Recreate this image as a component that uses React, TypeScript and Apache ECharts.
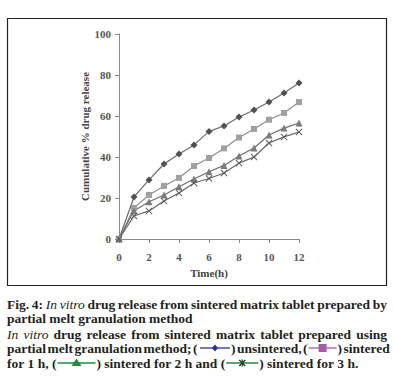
import React, { useEffect, useRef } from "react";
import * as echarts from "echarts";

// ---- data ----
const timeHours = [0, 1, 2, 3, 4, 5, 6, 7, 8, 9, 10, 11, 12];
const unsintered = [0, 20.5, 28.8, 36.6, 41.5, 45.9, 52.5, 55.1, 59.5, 62.9, 66.8, 71.2, 76.1];
const sintered1h = [0, 15.2, 21.5, 25.9, 29.8, 35.6, 39.5, 44.2, 49.5, 53.7, 58.2, 61.5, 66.8];
const sintered2h = [0, 13.8, 18.2, 21.5, 25.5, 29.3, 32.8, 35.9, 40.5, 44.4, 50.7, 54.1, 56.6];
const sintered3h = [0, 11.2, 13.7, 18.5, 22.4, 27.3, 29.5, 32.2, 37.0, 40.0, 46.8, 49.8, 52.2];
const seriesNames = ["unsintered", "sintered for 1 h", "sintered for 2 h", "sintered for 3 h"];
const xAxisName = "Time(h)";
const yAxisName = "Cumulative % drug release";

type Part = { t?: string; it?: boolean; icon?: number };
type Word = Part[];
const w = (t: string, it = false): Word => [{ t, it }];

const captionLines: { y: number; justify: boolean; words: Word[] }[] = [
  {
    y: 304,
    justify: true,
    words: [w("Fig."), w("4:"), w("In", true), w("vitro", true), w("drug"), w("release"), w("from"), w("sintered"), w("matrix"), w("tablet"), w("prepared"), w("by")],
  },
  { y: 318, justify: false, words: [w("partial"), w("melt"), w("granulation"), w("method")] },
  {
    y: 334,
    justify: true,
    words: [w("In", true), w("vitro", true), w("drug"), w("release"), w("from"), w("sintered"), w("matrix"), w("tablet"), w("prepared"), w("using")],
  },
  {
    y: 348,
    justify: true,
    words: [w("partial"), w("melt"), w("granulation"), w("method;"), w("("), [{ icon: 0 }, { t: ")" }], w("unsintered,"), [{ t: "(" }, { icon: 1 }, { t: ")" }], w("sintered")],
  },
  {
    y: 363,
    justify: false,
    words: [w("for"), w("1"), w("h,"), [{ t: "(" }, { icon: 2 }, { t: ")" }], w("sintered"), w("for"), w("2"), w("h"), w("and"), [{ t: "(" }, { icon: 3 }, { t: ")" }], w("sintered"), w("for"), w("3"), w("h.")],
  },
];

const iconWidths = [32, 30, 40, 34];
const iconColors = ["#2e3192", "#a45aa6", "#1f8c3f", "#1f8c3f"];

export default function App() {
  const ref = useRef<HTMLDivElement>(null);

  useEffect(() => {
    if (!ref.current) return;
    const chart = echarts.init(ref.current, undefined, { renderer: "svg" });

    const FAM = '"Liberation Serif", "Times New Roman", serif';
    const fs = 13.5;
    const fontB = `bold ${fs}px ${FAM}`;
    const fontI = `italic ${fs}px ${FAM}`;
    const textColor = "#231f20";
    const ctx = document.createElement("canvas").getContext("2d")!;
    const partW = (p: Part) => {
      if (p.icon !== undefined) return iconWidths[p.icon];
      ctx.font = p.it ? fontI : fontB;
      return ctx.measureText(p.t || "").width;
    };
    ctx.font = fontB;
    const spaceW = ctx.measureText(" ").width;

    const X0 = 7;
    const X1 = 387;
    const graphics: any[] = [];

    const drawIcon = (idx: number, x: number, y: number) => {
      const wd = iconWidths[idx];
      const c = iconColors[idx];
      graphics.push({
        type: "line",
        shape: { x1: x + 1, y1: y, x2: x + wd - 1, y2: y },
        style: { stroke: c, lineWidth: 1.3 },
      });
      const cx = x + wd / 2;
      if (idx === 0) {
        graphics.push({
          type: "polygon",
          shape: { points: [[cx, y - 3.5], [cx + 3, y], [cx, y + 3.5], [cx - 3, y]] },
          style: { fill: c },
        });
      } else if (idx === 1) {
        graphics.push({ type: "rect", shape: { x: cx - 4, y: y - 4, width: 8, height: 8 }, style: { fill: c } });
      } else if (idx === 2) {
        graphics.push({
          type: "polygon",
          shape: { points: [[cx, y - 4.5], [cx + 5, y + 3], [cx - 5, y + 3]] },
          style: { fill: c },
        });
      } else {
        const s = 3;
        graphics.push({ type: "line", shape: { x1: cx - s, y1: y - s, x2: cx + s, y2: y + s }, style: { stroke: "#1b3b1f", lineWidth: 1.2 } });
        graphics.push({ type: "line", shape: { x1: cx - s, y1: y + s, x2: cx + s, y2: y - s }, style: { stroke: "#1b3b1f", lineWidth: 1.2 } });
        graphics.push({ type: "line", shape: { x1: cx, y1: y - s - 0.5, x2: cx, y2: y + s + 0.5 }, style: { stroke: "#1b3b1f", lineWidth: 1.2 } });
      }
    };

    captionLines.forEach((line) => {
      const widths = line.words.map((wd) => wd.reduce((a, p) => a + partW(p), 0));
      const total = widths.reduce((a, b) => a + b, 0);
      const gap = line.justify ? Math.max(1.5, (X1 - X0 - total) / (line.words.length - 1)) : spaceW;
      let x = X0;
      line.words.forEach((wd, i) => {
        let px = x;
        wd.forEach((p) => {
          const pw = partW(p);
          if (p.icon !== undefined) {
            drawIcon(p.icon, px, line.y);
          } else {
            graphics.push({
              type: "text",
              x: px,
              y: line.y,
              style: { text: p.t, font: p.it ? fontI : fontB, fill: textColor, align: "left", verticalAlign: "middle" },
            });
          }
          px += pw;
        });
        x += widths[i] + gap;
      });
    });

    // outer frame
    graphics.push({
      type: "rect",
      shape: { x: 7.5, y: 18.5, width: 379, height: 267 },
      style: { fill: "none", stroke: "#222", lineWidth: 1.2 },
      z: 100,
    });

    const axisFont = { fontFamily: FAM, fontSize: 11, color: "#555", fontWeight: "bold" as const };
    const xSym = "path://M0,1L1,0L5,4L9,0L10,1L6,5L10,9L9,10L5,6L1,10L0,9L4,5Z";

    const mk = (name: string, data: number[], symbol: string, size: number, lineColor: string, markColor: string) => ({
      name,
      type: "line",
      data: timeHours.map((t, i) => [t, data[i]]),
      symbol,
      symbolSize: size,
      showAllSymbol: true,
      lineStyle: { width: 1.2, color: lineColor },
      itemStyle: { color: markColor },
      z: 3,
    });

    chart.setOption({
      animation: false,
      backgroundColor: "#fff",
      grid: { left: 119, right: 94, top: 34, bottom: 142, containLabel: false },
      xAxis: {
        type: "value",
        min: 0,
        max: 12,
        interval: 2,
        name: xAxisName,
        nameLocation: "middle",
        nameGap: 28,
        nameTextStyle: { ...axisFont, fontSize: 11, color: "#444" },
        axisLine: { lineStyle: { color: "#8a8a8a", width: 1 } },
        axisTick: { show: true, length: 4, lineStyle: { color: "#8a8a8a" } },
        axisLabel: { ...axisFont, margin: 12 },
        splitLine: { show: false },
      },
      yAxis: {
        type: "value",
        min: 0,
        max: 100,
        interval: 20,
        name: yAxisName,
        nameLocation: "middle",
        nameGap: 25,
        nameRotate: 90,
        nameTextStyle: { ...axisFont, fontSize: 11, color: "#444" },
        axisLine: { show: true, lineStyle: { color: "#8a8a8a", width: 1 } },
        axisTick: { show: true, length: 4, lineStyle: { color: "#8a8a8a" } },
        axisLabel: { ...axisFont, margin: 8 },
        splitLine: { show: false },
      },
      series: [
        mk(seriesNames[0], unsintered, "diamond", 7, "#6a6a6a", "#505050"),
        mk(seriesNames[1], sintered1h, "rect", 6, "#8c8c8c", "#a0a0a0"),
        mk(seriesNames[2], sintered2h, "triangle", 7, "#6e6e6e", "#7a7a7a"),
        mk(seriesNames[3], sintered3h, xSym, 7, "#666", "#5a5a5a"),
      ],
      graphic: graphics,
    });

    return () => chart.dispose();
  }, []);

  return (
    <div
      ref={ref}
      style={{ position: "fixed", left: 0, top: 0, width: 393, height: 381, background: "#fff" }}
    />
  );
}
